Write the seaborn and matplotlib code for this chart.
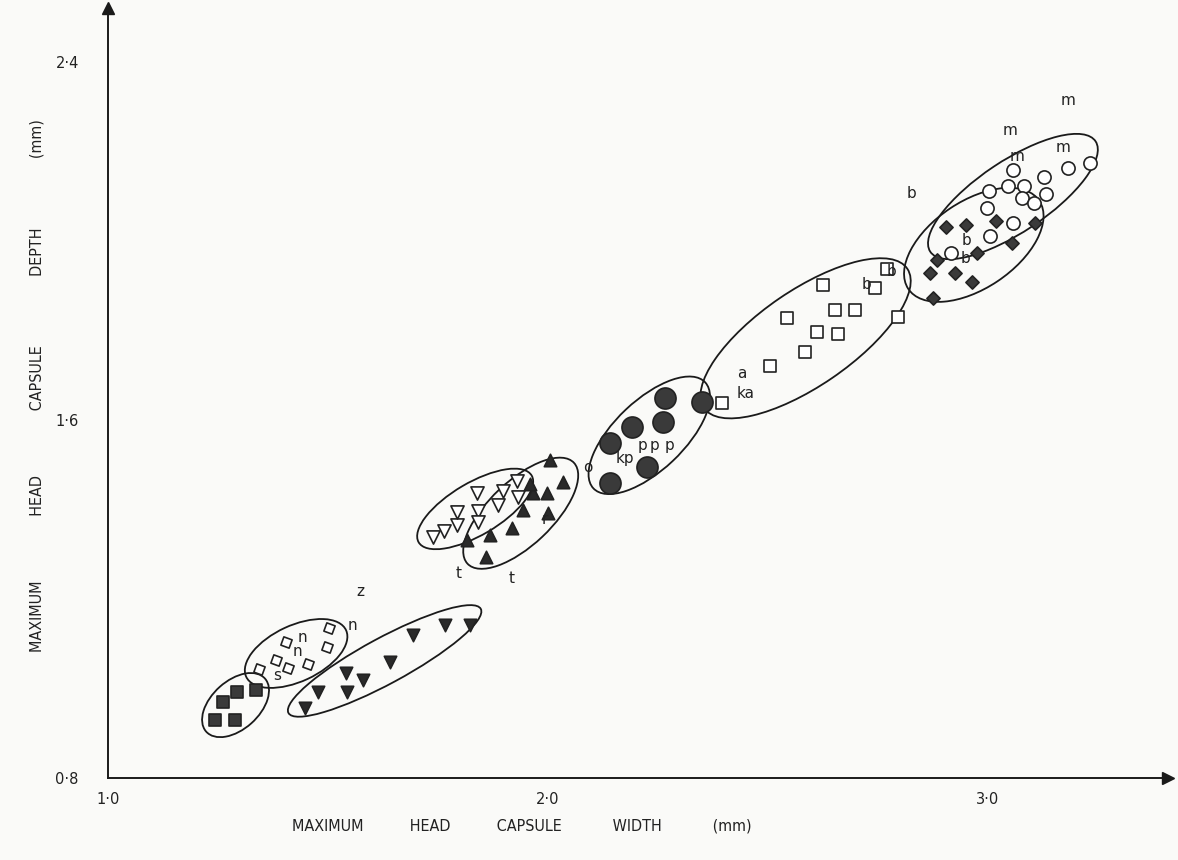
import numpy as np
import pandas as pd
import seaborn as sns
import matplotlib.pyplot as plt
from matplotlib.patches import Ellipse

sns.set_theme(style="white")
plt.rcParams['font.family'] = ['DejaVu Sans']

# head capsule width / depth (mm) per group
sq_fill_x = [1.243, 1.289, 1.261, 1.293, 1.336]
sq_fill_y = [0.930, 0.930, 0.970, 0.992, 0.997]

dia_open_x = [1.343, 1.382, 1.405, 1.409, 1.455, 1.498, 1.502]
dia_open_y = [1.044, 1.064, 1.104, 1.046, 1.055, 1.093, 1.135]

tdown_fill_x = [1.448, 1.477, 1.541, 1.543, 1.580, 1.641, 1.693, 1.766, 1.823]
tdown_fill_y = [0.956, 0.992, 1.035, 0.992, 1.019, 1.059, 1.120, 1.142, 1.142]

tdown_open_x = [1.739, 1.764, 1.793, 1.793, 1.841, 1.841, 1.839, 1.886, 1.898, 1.930, 1.932]
tdown_open_y = [1.339, 1.352, 1.365, 1.394, 1.397, 1.372, 1.437, 1.410, 1.441, 1.464, 1.428]

tup_fill_x = [1.816, 1.859, 1.868, 1.918, 1.943, 1.966, 1.998, 2.000, 2.005, 2.034, 1.959]
tup_fill_y = [1.332, 1.294, 1.343, 1.359, 1.399, 1.437, 1.437, 1.392, 1.511, 1.461, 1.457]

circ_fill_x = [2.141, 2.141, 2.191, 2.225, 2.266, 2.261, 2.350]
circ_fill_y = [1.459, 1.549, 1.584, 1.495, 1.649, 1.596, 1.640]

sq_open_x = [2.395, 2.505, 2.584, 2.611, 2.659, 2.543, 2.652, 2.698, 2.625, 2.743, 2.770, 2.795]
sq_open_y = [1.638, 1.721, 1.752, 1.797, 1.792, 1.828, 1.846, 1.846, 1.902, 1.895, 1.937, 1.830]

circ_open_x = [3.057, 3.182, 3.232, 3.127, 3.082, 3.045, 3.002, 3.132, 3.077, 3.105,
               2.998, 3.057, 3.005, 2.916]
circ_open_y = [2.159, 2.163, 2.174, 2.143, 2.123, 2.123, 2.112, 2.105, 2.096, 2.085,
               2.074, 2.040, 2.011, 1.973]

dia_fill_x = [2.905, 2.950, 3.018, 3.107, 3.055, 2.975, 2.884, 2.868, 2.925, 2.964, 2.875]
dia_fill_y = [2.031, 2.036, 2.045, 2.040, 1.996, 1.973, 1.958, 1.928, 1.928, 1.908, 1.873]

# handwritten letters scattered on the plot
notes = [("z", 1.573, 1.216), ("n", 1.555, 1.140), ("n", 1.443, 1.113), ("n", 1.430, 1.082),
         ("s", 1.384, 1.030), ("t", 1.798, 1.258), ("t", 1.918, 1.247), ("r", 1.993, 1.377),
         ("o", 2.091, 1.495), ("kp", 2.175, 1.515), ("p", 2.214, 1.542), ("p", 2.243, 1.542),
         ("p", 2.277, 1.542), ("a", 2.441, 1.703), ("ka", 2.450, 1.660), ("b", 2.725, 1.904),
         ("b", 2.782, 1.931), ("b", 2.827, 2.107), ("m", 3.182, 2.315), ("m", 3.050, 2.248),
         ("m", 3.066, 2.188), ("m", 3.170, 2.208), ("b", 2.952, 2.002), ("b", 2.950, 1.962)]

groups = [
    ("sq_fill", sq_fill_x, sq_fill_y, "s", "#3a3a3a", 80),
    ("dia_open", dia_open_x, dia_open_y, (4, 0, 25), "white", 80),
    ("tdown_fill", tdown_fill_x, tdown_fill_y, "v", "#2a2a2a", 80),
    ("tdown_open", tdown_open_x, tdown_open_y, "v", "white", 90),
    ("tup_fill", tup_fill_x, tup_fill_y, "^", "#2a2a2a", 80),
    ("circ_fill", circ_fill_x, circ_fill_y, "o", "#3a3a3a", 230),
    ("sq_open", sq_open_x, sq_open_y, "s", "white", 85),
    ("circ_open", circ_open_x, circ_open_y, "o", "white", 90),
    ("dia_fill", dia_fill_x, dia_fill_y, "D", "#3a3a3a", 45),
]

bg = "#fafaf8"
fig = plt.figure(figsize=(11.78, 8.6), dpi=100, facecolor=bg)
ax = fig.add_axes([0.0917, 0.0953, 0.90, 0.895])
ax.set_facecolor(bg)

for name, xs, ys, mk, fc, s in groups:
    df = pd.DataFrame({"w": xs, "d": ys})
    sns.scatterplot(data=df, x="w", y="d", marker=mk, s=s, color=fc,
                    edgecolor="#222222", linewidth=1.2, ax=ax, zorder=3)

    # hand-drawn style envelope around each group
    pts = np.column_stack([xs, ys])
    c = pts.mean(axis=0)
    _, _, vt = np.linalg.svd(pts - c)
    proj = (pts - c) @ vt.T
    lo, hi = proj.min(axis=0), proj.max(axis=0)
    mid = c + ((lo + hi) / 2) @ vt
    half = (hi - lo) / 2
    a = half[0] * 1.04 + 0.03
    b = half[1] * 1.0 + 0.03
    ang = np.degrees(np.arctan2(vt[0, 1], vt[0, 0]))
    ax.add_patch(Ellipse(mid, 2 * a, 2 * b, angle=ang, fill=False,
                         edgecolor="#1a1a1a", linewidth=1.3, zorder=2))

for txt, x, y in notes:
    ax.text(x, y, txt, fontsize=11, color="#222222", ha="center", va="center",
            zorder=4)

ax.set_xlim(1.0, 3.41)
ax.set_ylim(0.8, 2.52)
ax.set_xticks([1.0, 2.0, 3.0])
ax.set_xticklabels(["1·0", "2·0", "3·0"])
ax.set_yticks([0.8, 1.6, 2.4])
ax.set_yticklabels(["0·8", "1·6", "2·4"])
ax.tick_params(axis="both", direction="inout", length=6, width=1, labelsize=10.5,
               colors="#222222")
ax.tick_params(axis="y", pad=18)
ax.tick_params(axis="x", pad=7)
sns.despine(ax=ax)
for side in ["left", "bottom"]:
    ax.spines[side].set_color("#1a1a1a")
    ax.spines[side].set_linewidth(1.4)
ax.plot(1, 0, ">", color="#1a1a1a", markersize=8, transform=ax.transAxes, clip_on=False)
ax.plot(0, 1, "^", color="#1a1a1a", markersize=8, transform=ax.transAxes, clip_on=False)

ax.set_xlabel("MAXIMUM          HEAD          CAPSULE           WIDTH           (mm)",
              fontsize=11.5, color="#222222", fontstretch="condensed")
ax.xaxis.set_label_coords(0.39, -0.052)
ax.set_ylabel("MAXIMUM              HEAD              CAPSULE               DEPTH               (mm)",
              fontsize=11.5, color="#222222", fontstretch="condensed")
ax.yaxis.set_label_coords(-0.060, 0.51)

fig.savefig("out.png", dpi=100, facecolor=bg)
